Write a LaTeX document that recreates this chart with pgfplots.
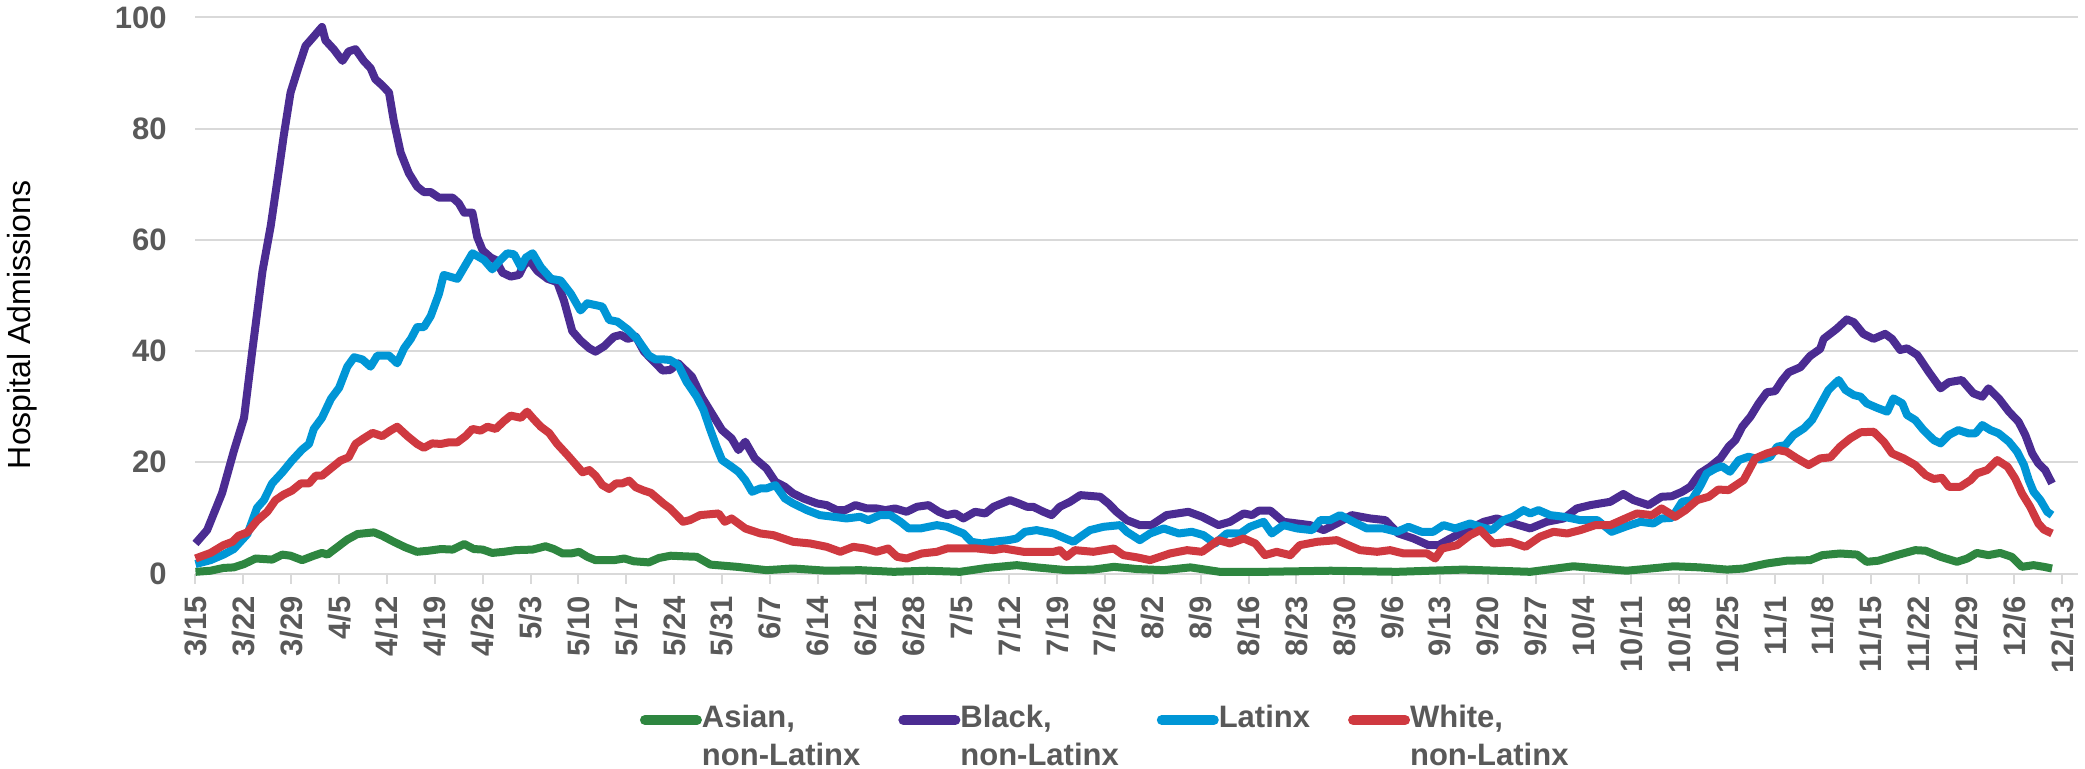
\documentclass[border=0pt]{standalone}
\usepackage{fontspec}
\setmainfont{Liberation Sans}
\usepackage{pgfplots}
\usepackage{pgfplotstable}
\pgfplotsset{compat=1.18}
\definecolor{cgreen}{RGB}{46,134,64}
\definecolor{cpurple}{RGB}{75,44,146}
\definecolor{cblue}{RGB}{0,150,214}
\definecolor{cred}{RGB}{207,57,64}
\definecolor{cgrid}{RGB}{217,217,217}
\definecolor{ctext}{RGB}{89,89,89}

\pgfplotstableread{
x y
0 0.3
2.2 0.5
4.1 1.0
5.6 1.1
7.1 1.7
8.8 2.7
11.2 2.5
12.7 3.4
13.9 3.2
15.6 2.4
17.3 3.2
18.5 3.7
19.3 3.4
20.7 4.7
22.2 6.1
23.7 7.1
26.1 7.4
27.3 6.8
29.0 5.7
30.7 4.7
32.4 3.9
34.1 4.1
35.9 4.4
37.6 4.3
39.3 5.3
40.7 4.4
42.0 4.3
43.4 3.7
45.1 3.9
46.8 4.2
49.3 4.3
51.2 4.9
52.4 4.4
53.7 3.6
54.9 3.6
56.1 3.9
57.3 3.0
58.5 2.4
61.2 2.4
62.7 2.7
64.1 2.2
66.3 2.0
67.8 2.8
69.5 3.2
71.3 3.1
73.3 3.0
75.3 1.6
79.2 1.2
83.5 0.6
87.4 0.9
92.3 0.5
97.2 0.6
102.1 0.3
107.0 0.5
111.8 0.3
115.7 1.0
120.1 1.5
123.0 1.1
127.4 0.6
131.3 0.7
134.3 1.2
137.7 0.8
141.6 0.6
145.5 1.1
149.8 0.3
156.2 0.3
166.0 0.5
175.7 0.3
180.5 0.5
185.4 0.7
190.3 0.5
195.2 0.3
201.5 1.3
205.4 0.9
209.3 0.5
212.8 0.9
216.2 1.3
220.0 1.1
224.0 0.7
226.4 0.9
229.8 1.8
232.7 2.3
236.1 2.4
237.9 3.3
240.5 3.6
243.0 3.4
244.4 2.1
246.1 2.3
248.8 3.3
251.5 4.2
253.0 4.1
255.2 3.0
257.6 2.1
259.1 2.7
260.5 3.7
262.2 3.3
263.9 3.7
265.6 3.0
267.1 1.2
268.8 1.5
270.3 1.2
271.5 0.9
}\asian

\pgfplotstableread{
x y
0 5.4
1.7 7.8
3.9 14.5
5.6 22
7.1 28
8.3 40
9.8 54.4
11.0 62.5
12.2 72.6
12.9 78.7
13.9 86.5
15.1 91.2
16.1 94.9
17.1 96.3
18.5 98.3
19.0 95.9
20.2 94.3
21.5 92.2
22.4 93.9
23.4 94.3
24.6 92.2
25.6 90.9
26.3 88.9
27.3 87.8
28.3 86.5
29.0 81.4
30.0 75.7
31.2 72.0
32.4 69.6
33.4 68.6
34.4 68.6
35.6 67.6
37.6 67.6
38.5 66.6
39.3 64.9
40.5 64.9
41.2 60.5
42.0 58.1
43.2 56.8
43.9 56.4
44.9 54.1
46.1 53.4
47.3 53.7
48.0 55.4
48.8 56.4
50.0 54.4
51.5 53.0
52.9 52.4
53.9 49.0
55.1 43.6
56.3 41.9
57.6 40.5
58.5 39.9
59.8 40.9
61.2 42.6
62.2 42.9
63.2 42.2
64.4 42.6
65.6 39.9
67.3 37.8
68.3 36.5
69.4 36.6
70.6 37.8
72.6 35.4
74.0 31.8
75.5 28.8
77.0 25.8
78.4 24.3
79.4 22.2
80.4 23.7
81.8 20.7
83.5 18.9
84.8 16.5
86.2 15.6
87.4 14.4
88.9 13.5
90.9 12.6
92.3 12.3
93.8 11.4
95.0 11.4
96.5 12.3
98.2 11.7
99.6 11.7
100.9 11.4
102.3 11.7
104.0 11.1
105.5 12.0
107.2 12.3
108.7 11.1
109.9 10.5
111.1 10.8
112.3 9.9
114.0 11.1
115.5 10.8
116.7 12.0
119.1 13.2
120.4 12.6
121.6 12.0
122.5 12.0
124.0 11.1
125.2 10.5
126.4 12.0
127.9 12.9
129.4 14.1
132.3 13.8
133.5 12.6
134.7 11.1
136.2 9.6
138.1 8.7
139.8 8.7
142.0 10.5
145.2 11.1
147.2 10.2
149.6 8.7
151.3 9.3
153.3 10.8
154.5 10.5
155.5 11.3
157.2 11.3
159.1 9.3
161.1 9.0
163.0 8.7
165.0 7.8
166.9 9.0
169.1 10.5
171.8 9.9
174.0 9.6
175.9 7.2
178.1 6.3
180.3 5.1
181.8 5.1
183.5 6.3
185.9 7.8
188.4 9.3
190.3 9.9
192.7 9.0
195.2 8.1
197.6 9.3
200.1 9.9
202.0 11.7
204.0 12.3
206.9 12.9
208.8 14.3
210.3 13.2
212.5 12.3
214.4 13.8
215.9 13.9
217.4 14.7
218.6 15.6
220.0 18.0
221.5 19.2
223.0 20.7
224.2 22.8
225.2 24.0
226.2 26.4
227.4 28.2
228.6 30.6
229.8 32.6
231.0 32.8
232.0 34.7
233.0 36.2
234.7 37.1
236.1 39.1
237.6 40.4
238.1 42.2
240.0 44.0
241.5 45.7
242.5 45.2
243.9 43.1
245.4 42.2
247.1 43.1
248.1 42.2
249.3 40.2
250.3 40.5
251.8 39.3
253.5 36.2
255.2 33.3
256.4 34.4
258.3 34.8
260.0 32.4
261.3 31.8
262.2 33.3
263.7 31.5
265.2 29.1
266.6 27.3
267.6 24.9
268.6 21.6
269.5 19.8
270.5 18.6
271.5 16.2
}\black

\pgfplotstableread{
x y
0 1.7
2.2 2.4
4.1 3.4
5.6 4.4
7.6 7.1
9.0 11.8
10.0 13.2
11.2 16.2
12.7 18.2
14.1 20.3
15.6 22.3
16.6 23.3
17.3 26.0
18.5 28.0
19.8 31.4
21.0 33.4
22.2 37.2
23.2 38.9
24.4 38.5
25.6 37.2
26.6 39.2
28.3 39.2
29.5 37.8
30.5 40.5
31.5 42.2
32.4 44.3
33.4 44.3
34.4 46.3
35.6 50.3
36.3 53.7
38.3 53.0
39.3 55.1
40.5 57.6
42.2 56.4
43.4 54.7
44.6 56.4
45.6 57.6
46.6 57.4
47.6 55.1
48.3 56.8
49.3 57.6
50.5 55.1
52.0 53.0
53.4 52.7
54.9 50.3
56.3 47.3
57.3 48.6
59.5 48.0
60.5 45.6
61.7 45.3
63.2 43.9
64.6 42.2
66.3 39.2
67.3 38.5
68.5 38.5
69.4 38.4
70.6 37.5
71.8 34.5
73.3 31.8
74.3 29.4
75.3 25.8
76.2 22.8
77.0 20.4
78.4 19.2
79.4 18.3
80.4 16.8
81.4 14.7
82.6 15.3
83.5 15.3
84.8 15.9
86.2 13.5
87.4 12.6
89.4 11.4
91.3 10.5
93.3 10.2
95.2 9.9
97.2 10.2
98.4 9.6
100.1 10.5
101.6 10.5
103.1 9.3
104.3 8.1
106.0 8.1
108.4 8.7
109.9 8.4
111.1 7.8
112.3 7.2
113.5 5.7
115.0 5.4
116.7 5.7
118.9 6.0
120.1 6.3
121.3 7.5
123.0 7.8
125.5 7.2
127.2 6.3
128.4 5.7
129.4 6.6
130.8 7.8
132.8 8.4
135.2 8.7
136.2 7.5
138.1 6.0
139.6 7.2
141.6 8.1
143.8 7.2
145.7 7.5
147.4 6.9
149.1 5.4
150.8 7.2
152.8 7.2
154.2 8.4
156.2 9.3
157.4 7.2
159.1 8.7
161.1 8.1
163.3 7.8
164.5 9.6
165.9 9.6
167.4 10.5
169.3 9.3
171.3 8.1
173.7 8.1
175.7 7.5
177.4 8.4
179.3 7.5
181.0 7.5
182.5 8.7
184.2 8.1
186.4 9.0
187.9 8.4
189.6 7.8
191.3 9.6
192.7 10.2
194.2 11.4
195.2 10.8
196.4 11.4
198.1 10.5
200.1 10.2
202.5 9.6
205.0 9.6
207.1 7.5
209.3 8.5
211.3 9.3
213.2 9.0
214.4 9.9
215.9 10.0
217.4 12.9
218.8 13.2
220.0 15.6
221.0 18.0
222.3 18.9
223.2 19.3
224.4 18.3
225.7 20.4
227.1 21.0
228.8 20.5
230.3 21.0
231.3 22.8
232.5 23.1
233.7 24.9
235.2 26.1
236.4 27.6
237.6 30.3
238.8 33.0
240.3 34.8
241.3 33.0
242.5 32.1
243.5 31.8
244.4 30.6
245.9 29.8
247.4 29.1
248.3 31.5
249.6 30.6
250.3 28.5
251.5 27.6
252.7 25.8
254.2 24.0
255.2 23.4
256.4 24.9
257.8 25.8
259.3 25.2
260.3 25.2
261.3 26.7
262.5 25.8
263.7 25.2
265.2 23.7
266.4 21.9
267.4 19.5
268.1 16.8
268.8 14.7
269.8 13.2
270.8 11.1
271.5 10.5
}\latinx

\pgfplotstableread{
x y
0 2.7
2.2 3.7
4.1 5.1
5.4 5.7
6.3 6.8
7.6 7.4
9.0 9.5
10.5 11.1
11.7 13.2
12.9 14.2
14.1 14.9
15.4 16.2
16.6 16.2
17.6 17.6
18.5 17.6
19.8 18.9
21.2 20.3
22.4 20.9
23.4 23.3
24.6 24.3
25.9 25.3
27.3 24.7
28.5 25.7
29.5 26.4
31.0 24.7
32.4 23.3
33.4 22.6
34.6 23.4
35.9 23.3
37.1 23.6
38.3 23.6
39.5 24.7
40.5 26.0
41.7 25.7
42.7 26.4
43.9 26.0
45.1 27.4
46.1 28.4
47.6 28.0
48.5 29.1
49.5 27.7
50.5 26.4
51.7 25.3
52.9 23.3
54.4 21.3
55.4 19.9
56.6 18.2
57.6 18.6
58.5 17.6
59.5 15.9
60.5 15.2
61.5 16.2
62.4 16.2
63.4 16.7
64.4 15.5
65.6 14.9
66.6 14.5
68.5 12.5
69.4 11.7
71.3 9.3
72.3 9.6
73.8 10.5
76.5 10.8
77.4 9.3
78.4 9.9
80.4 8.1
82.6 7.2
84.5 6.9
87.4 5.7
89.9 5.4
92.3 4.8
94.3 3.9
96.2 4.8
97.9 4.5
99.6 3.9
101.3 4.5
102.6 3.0
104.0 2.7
106.2 3.6
108.4 3.9
109.9 4.5
111.8 4.5
114.3 4.5
116.7 4.2
118.2 4.5
121.1 3.9
125.5 3.9
126.4 4.2
127.4 3.0
128.6 4.2
131.3 3.9
132.8 4.2
134.3 4.5
135.7 3.3
137.7 2.9
139.6 2.4
142.5 3.6
145.0 4.2
147.2 3.9
149.6 6.0
151.3 5.4
153.3 6.3
155.0 5.4
156.4 3.3
158.1 3.9
160.1 3.3
161.5 5.1
164.0 5.7
166.9 6.0
170.3 4.2
172.8 3.9
174.7 4.2
176.7 3.6
180.1 3.6
181.3 2.7
182.3 4.5
184.5 5.1
186.4 6.9
187.9 7.8
189.8 5.4
192.3 5.7
194.5 4.8
196.6 6.6
198.6 7.5
200.6 7.2
202.5 7.8
204.7 8.7
206.9 8.7
209.1 9.9
210.8 10.8
213.0 10.5
214.4 11.7
216.4 10.2
217.9 11.4
219.6 13.2
221.3 13.8
222.7 15.1
224.2 15.0
226.4 16.8
228.1 20.7
229.8 21.6
231.5 22.2
232.7 21.9
234.2 20.7
235.9 19.5
237.6 20.7
239.1 20.9
240.5 22.8
242.0 24.3
243.5 25.4
245.4 25.5
246.9 23.7
248.1 21.6
249.8 20.7
251.5 19.5
253.0 17.7
254.2 17.0
255.4 17.2
256.4 15.6
258.1 15.6
259.6 16.8
260.5 18.0
262.0 18.6
263.5 20.4
265.0 19.2
266.1 17.1
267.1 14.4
268.3 12.0
269.5 9.0
270.3 7.9
271.5 7.2
}\white

\begin{document}
\begin{tikzpicture}
\begin{axis}[
  at={(0,0)}, anchor=south west,
  width=941.25bp, height=278bp, scale only axis,
  xmin=0, xmax=275.3, ymin=0, ymax=100,
  clip=false,
  axis line style={draw=none},
  xtick={0,7,...,273},
  xticklabels={3/15,3/22,3/29,4/5,4/12,4/19,4/26,5/3,5/10,5/17,5/24,5/31,6/7,6/14,6/21,6/28,7/5,7/12,7/19,7/26,8/2,8/9,8/16,8/23,8/30,9/6,9/13,9/20,9/27,10/4,10/11,10/18,10/25,11/1,11/8,11/15,11/22,11/29,12/6,12/13},
  ytick={0,20,...,100},
  /pgf/number format/assume math mode=true,
  ymajorgrids, major grid style={cgrid, line width=1bp},
  xtick pos=bottom, ytick pos=left,
  tick align=outside, major tick length=5bp,
  xtick style={cgrid, line width=1bp},
  ytick style={draw=none},
  ticklabel style={font=\fontsize{15.5bp}{18bp}\selectfont\bfseries, text=ctext},
  xticklabel style={yshift=-6.25bp, rotate=90, anchor=east, inner sep=0pt},
  yticklabel style={xshift=-9.25bp, anchor=east, inner sep=0pt},
  ylabel={Hospital Admissions},
  ylabel style={at={(axis description cs:-0.0922,0.447)}, anchor=center, font=\fontsize{16bp}{19bp}\selectfont, text=black},
  legend columns=4,
  legend style={at={(axis description cs:0.2361,-0.2286)}, anchor=north west, draw=none, fill=none, inner sep=0pt, outer sep=0pt,
    font=\fontsize{15.5bp}{19bp}\selectfont\bfseries, text=ctext,
    nodes={inner sep=0pt}, cells={anchor=base west},
    /tikz/every even column/.append style={column sep=19bp}},
  legend image code/.code={\draw[#1, line width=5bp, line cap=round] (2.5bp,0.36em) -- (28.5bp,0.36em);},
  every axis plot/.append style={line width=4bp, line join=round, no markers},
]
\addplot[cgreen] table {\asian};
\addlegendentry{\begin{tabular}[t]{@{}l@{}}Asian,\\non-Latinx\end{tabular}}
\addplot[cpurple] table {\black};
\addlegendentry{\begin{tabular}[t]{@{}l@{}}Black,\\non-Latinx\end{tabular}}
\addplot[cblue] table {\latinx};
\addlegendentry{\begin{tabular}[t]{@{}l@{}}Latinx\end{tabular}}
\addplot[cred] table {\white};
\addlegendentry{\begin{tabular}[t]{@{}l@{}}White,\\non-Latinx\end{tabular}}
\end{axis}
\pgfresetboundingbox
\path[use as bounding box] (-97.75bp,-97.75bp) rectangle (944.75bp,286.75bp);
\end{tikzpicture}
\end{document}
